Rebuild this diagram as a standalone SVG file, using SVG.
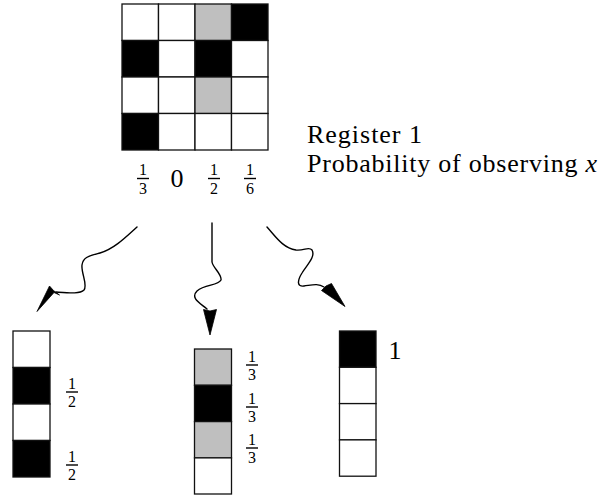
<svg xmlns="http://www.w3.org/2000/svg" width="610" height="495" viewBox="0 0 610 495">
<style>
.c{stroke:#111;stroke-width:1.3;}
.w{fill:#fff;}
.b{fill:#000;}
.g{fill:#bfbfbf;}
.t{font-family:"Liberation Serif","Times New Roman",serif;fill:#000;}
.f{font-family:"Liberation Serif","Times New Roman",serif;font-size:16px;fill:#000;text-anchor:middle;}
.bar{stroke:#000;stroke-width:1.4;}
.wire{fill:none;stroke:#000;stroke-width:1.4;stroke-linecap:round;}
.head{fill:#000;stroke:#000;stroke-width:0.8;stroke-linejoin:miter;}
</style>
<rect width="610" height="495" fill="#fff"/>

<g id="register1">
  <rect class="c w" x="122" y="4" width="36.5" height="36.5"/>
  <rect class="c w" x="158.5" y="4" width="36.5" height="36.5"/>
  <rect class="c g" x="195" y="4" width="36.5" height="36.5"/>
  <rect class="c b" x="231.5" y="4" width="36.5" height="36.5"/>
  <rect class="c b" x="122" y="40.5" width="36.5" height="36.5"/>
  <rect class="c w" x="158.5" y="40.5" width="36.5" height="36.5"/>
  <rect class="c b" x="195" y="40.5" width="36.5" height="36.5"/>
  <rect class="c w" x="231.5" y="40.5" width="36.5" height="36.5"/>
  <rect class="c w" x="122" y="77" width="36.5" height="36.5"/>
  <rect class="c w" x="158.5" y="77" width="36.5" height="36.5"/>
  <rect class="c g" x="195" y="77" width="36.5" height="36.5"/>
  <rect class="c w" x="231.5" y="77" width="36.5" height="36.5"/>
  <rect class="c b" x="122" y="113.5" width="36.5" height="36.5"/>
  <rect class="c w" x="158.5" y="113.5" width="36.5" height="36.5"/>
  <rect class="c w" x="195" y="113.5" width="36.5" height="36.5"/>
  <rect class="c w" x="231.5" y="113.5" width="36.5" height="36.5"/>
</g>

<g id="probabilities">
  <text class="f" x="143" y="175">1</text>
  <line class="bar" x1="137" y1="178.5" x2="149" y2="178.5"/>
  <text class="f" x="143" y="193.5">3</text>
  <text class="t" x="177" y="187" font-size="26" text-anchor="middle">0</text>
  <text class="f" x="214" y="175">1</text>
  <line class="bar" x1="208" y1="178.5" x2="220" y2="178.5"/>
  <text class="f" x="214" y="193.5">2</text>
  <text class="f" x="250" y="175">1</text>
  <line class="bar" x1="244" y1="178.5" x2="256" y2="178.5"/>
  <text class="f" x="250" y="193.5">6</text>
</g>

<g id="legend">
  <text class="t" x="307" y="143" font-size="26" textLength="115" lengthAdjust="spacing">Register 1</text>
  <text class="t" x="307" y="172" font-size="26" textLength="290" lengthAdjust="spacing">Probability of observing <tspan font-style="italic">x</tspan></text>
</g>

<g id="connectors">
  <path class="wire" d="M137,227 C126,237 114,249 100,253 C89,256 83,257 82,265 C81,273 88,285 84,290 C80,294 70,293 56,292"/>
  <polygon class="head" points="37,311.5 49.5,286 53.5,290.5 59.5,295 54,292.5"/>
  <path class="wire" d="M212,223 L212,262 C213,268 222,274 221,280 C218,286 205,284 197,291 C190,298 200,303 207,309"/>
  <polygon class="head" points="203.5,309.5 210,311 216.5,309.5 210,335"/>
  <path class="wire" d="M267,227 C276,237 283,248 296,250 C304,251 309,246 312,250 C316,257 306,266 302,273 C297,281 297,287 304,286 C312,285 318,283 324,287"/>
  <polygon class="head" points="321.5,290.5 326,286 331.5,283.5 345,306.5"/>
</g>

<g id="outcome1">
  <rect class="c w" x="13" y="331" width="37" height="36.5"/>
  <rect class="c b" x="13" y="367.5" width="37" height="36.5"/>
  <rect class="c w" x="13" y="404" width="37" height="36.5"/>
  <rect class="c b" x="13" y="440.5" width="37" height="36.5"/>
  <text class="f" x="72" y="388.5">1</text>
  <line class="bar" x1="66" y1="392" x2="78" y2="392"/>
  <text class="f" x="72" y="407">2</text>
  <text class="f" x="72" y="461.5">1</text>
  <line class="bar" x1="66" y1="465" x2="78" y2="465"/>
  <text class="f" x="72" y="480">2</text>
</g>

<g id="outcome2">
  <rect class="c g" x="194.5" y="349" width="37" height="36.3"/>
  <rect class="c b" x="194.5" y="385.3" width="37" height="36.3"/>
  <rect class="c g" x="194.5" y="421.6" width="37" height="36.3"/>
  <rect class="c w" x="194.5" y="457.9" width="37" height="36.1"/>
  <text class="f" x="252" y="361.5">1</text>
  <line class="bar" x1="246" y1="365" x2="258" y2="365"/>
  <text class="f" x="252" y="380">3</text>
  <text class="f" x="252" y="403.5">1</text>
  <line class="bar" x1="246" y1="407" x2="258" y2="407"/>
  <text class="f" x="252" y="422">3</text>
  <text class="f" x="252" y="444.5">1</text>
  <line class="bar" x1="246" y1="448" x2="258" y2="448"/>
  <text class="f" x="252" y="463">3</text>
</g>

<g id="outcome3">
  <rect class="c b" x="339.5" y="331" width="36.5" height="36.3"/>
  <rect class="c w" x="339.5" y="367.3" width="36.5" height="36.3"/>
  <rect class="c w" x="339.5" y="403.6" width="36.5" height="36.3"/>
  <rect class="c w" x="339.5" y="439.9" width="36.5" height="36.3"/>
  <text class="t" x="395" y="359" font-size="26" text-anchor="middle">1</text>
</g>
</svg>
